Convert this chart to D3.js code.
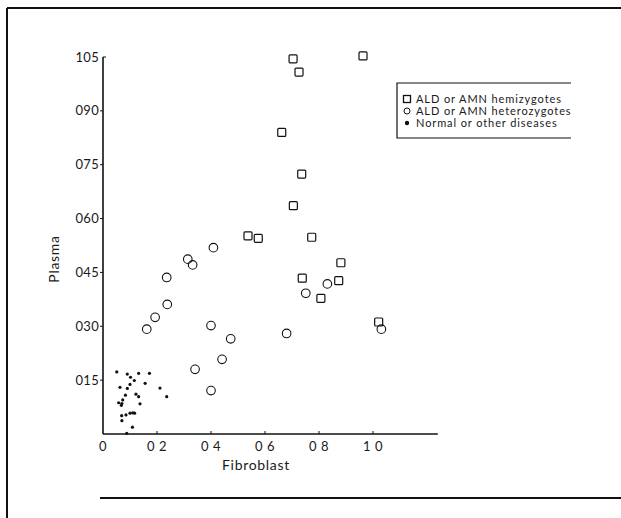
<!DOCTYPE html>
<html>
<head>
<meta charset="utf-8">
<script src="https://cdn.jsdelivr.net/npm/d3@7"></script>
<style>
  body { margin: 0; background: #fff; }
  text { font-family: Lato, "Open Sans", sans-serif; fill: #1a1a1a; }
</style>
</head>
<body>
<div id="chart"></div>
<script>
// ALD or AMN hemizygotes (fibroblast, plasma)
var hemizygotes = [
  [0.704, 1.045], [0.726, 1.008], [0.963, 1.053], [0.662, 0.840],
  [0.736, 0.724], [0.705, 0.636], [0.537, 0.552], [0.575, 0.545],
  [0.773, 0.548], [0.881, 0.477], [0.738, 0.434], [0.873, 0.427],
  [0.807, 0.378], [1.021, 0.312]
];

// ALD or AMN heterozygotes
var heterozygotes = [
  [0.409, 0.519], [0.314, 0.487], [0.332, 0.471], [0.236, 0.436],
  [0.238, 0.361], [0.193, 0.325], [0.162, 0.292], [0.400, 0.302],
  [0.473, 0.265], [0.441, 0.208], [0.341, 0.180], [0.400, 0.121],
  [0.680, 0.280], [0.751, 0.392], [0.831, 0.418], [1.031, 0.292]
];

// Normal or other diseases
var normals = [
  [0.051, 0.173], [0.090, 0.167], [0.132, 0.169], [0.172, 0.169],
  [0.102, 0.158], [0.116, 0.149], [0.156, 0.141], [0.100, 0.138],
  [0.063, 0.130], [0.090, 0.127], [0.211, 0.128], [0.083, 0.108],
  [0.122, 0.111], [0.132, 0.104], [0.236, 0.104], [0.073, 0.095],
  [0.058, 0.087], [0.070, 0.085], [0.068, 0.080], [0.137, 0.084],
  [0.100, 0.058], [0.110, 0.059], [0.117, 0.058], [0.085, 0.053],
  [0.069, 0.051], [0.070, 0.037], [0.109, 0.019], [0.088, 0.002]
];

var xTicks = [0, 0.2, 0.4, 0.6, 0.8, 1.0];
var xTickLabels = ["0", "0 2", "0 4", "0 6", "0 8", "1 0"];
var yTicks = [0.15, 0.30, 0.45, 0.60, 0.75, 0.90, 1.05];
var yTickLabels = ["015", "030", "045", "060", "075", "090", "105"];

var legendLabels = ["ALD or AMN hemizygotes", "ALD or AMN heterozygotes", "Normal or other diseases"];

var W = 621, H = 518;

var svg = d3.select("#chart").append("svg")
    .attr("width", W)
    .attr("height", H);

// page frame (scanned figure border)
var frame = svg.append("g").attr("stroke", "#111").attr("stroke-width", 2);
frame.append("line").attr("x1", 7).attr("y1", 8).attr("x2", W).attr("y2", 8);
frame.append("line").attr("x1", 7).attr("y1", 8).attr("x2", 7).attr("y2", H);
frame.append("line").attr("x1", 100).attr("y1", 498).attr("x2", W).attr("y2", 498);

var x = d3.scaleLinear().domain([0, 1.0]).range([103, 373]);
var y = d3.scaleLinear().domain([0, 1.05]).range([434, 57]);

// x axis
var xAxis = svg.append("g").attr("transform", "translate(0,434)");
xAxis.append("line")
    .attr("x1", x(0)).attr("x2", x(1.24))
    .attr("stroke", "#111").attr("stroke-width", 1.6);
xAxis.selectAll(".xt")
  .data(xTicks.slice(1))
  .enter().append("line")
    .attr("x1", function(d) { return x(d); })
    .attr("x2", function(d) { return x(d); })
    .attr("y1", 0).attr("y2", -3)
    .attr("stroke", "#111");
xAxis.selectAll(".xl")
  .data(xTicks)
  .enter().append("text")
    .attr("x", function(d) { return x(d); })
    .attr("y", 17)
    .attr("text-anchor", "middle")
    .style("font-size", "13px")
    .style("letter-spacing", "0.5px")
    .attr("xml:space", "preserve")
    .text(function(d, i) { return xTickLabels[i]; });

svg.append("text")
    .attr("x", 256).attr("y", 470)
    .attr("text-anchor", "middle")
    .style("font-size", "14px")
    .style("letter-spacing", "0.7px")
    .text("Fibroblast");

// y axis
var yAxis = svg.append("g").attr("transform", "translate(103,0)");
yAxis.append("line")
    .attr("y1", y(0)).attr("y2", y(1.05))
    .attr("stroke", "#111").attr("stroke-width", 1.6);
yAxis.selectAll(".yt")
  .data(yTicks)
  .enter().append("line")
    .attr("y1", function(d) { return y(d); })
    .attr("y2", function(d) { return y(d); })
    .attr("x1", 0)
    // top tick points inward, the others outward
    .attr("x2", function(d, i) { return i == yTicks.length - 1 ? 3 : -3; })
    .attr("stroke", "#111");
yAxis.selectAll(".yl")
  .data(yTicks)
  .enter().append("text")
    .attr("x", -4)
    .attr("y", function(d) { return y(d); })
    .attr("dy", "0.35em")
    .attr("text-anchor", "end")
    .style("font-size", "13px")
    .style("letter-spacing", "0.3px")
    .text(function(d, i) { return yTickLabels[i]; });

svg.append("text")
    .attr("transform", "translate(59,259) rotate(-90)")
    .attr("text-anchor", "middle")
    .style("font-size", "14px")
    .style("letter-spacing", "0.7px")
    .text("Plasma");

// points
var s = 8;
svg.append("g").selectAll("rect")
  .data(hemizygotes)
  .enter().append("rect")
    .attr("x", function(d) { return x(d[0]) - s / 2; })
    .attr("y", function(d) { return y(d[1]) - s / 2; })
    .attr("width", s).attr("height", s)
    .attr("rx", 1)
    .attr("fill", "none")
    .attr("stroke", "#111")
    .attr("stroke-width", 1.2);

svg.append("g").selectAll("circle")
  .data(heterozygotes)
  .enter().append("circle")
    .attr("cx", function(d) { return x(d[0]); })
    .attr("cy", function(d) { return y(d[1]); })
    .attr("r", 4.3)
    .attr("fill", "none")
    .attr("stroke", "#111")
    .attr("stroke-width", 1.1);

svg.append("g").selectAll("circle")
  .data(normals)
  .enter().append("circle")
    .attr("cx", function(d) { return x(d[0]); })
    .attr("cy", function(d) { return y(d[1]); })
    .attr("r", 1.6)
    .attr("fill", "#111");

// legend
var lg = svg.append("g").attr("transform", "translate(397,83)");
lg.append("path")
    .attr("d", "M174,0H0V55H174")
    .attr("fill", "none")
    .attr("stroke", "#111")
    .attr("stroke-width", 1.2);

var rows = lg.selectAll(".row")
  .data(legendLabels)
  .enter().append("g")
    .attr("transform", function(d, i) { return "translate(10," + (16 + i * 12) + ")"; });

rows.each(function(d, i) {
  var g = d3.select(this);
  if (i == 0) {
    g.append("rect").attr("x", -3.5).attr("y", -3.5).attr("width", 7).attr("height", 7)
      .attr("fill", "none").attr("stroke", "#111").attr("stroke-width", 1.3);
  } else if (i == 1) {
    g.append("circle").attr("r", 3).attr("fill", "none").attr("stroke", "#111");
  } else {
    g.append("circle").attr("r", 2.2).attr("fill", "#111");
  }
});

rows.append("text")
    .attr("x", 9)
    .attr("dy", "0.35em")
    .style("font-size", "11px")
    .style("letter-spacing", "0.9px")
    .text(function(d) { return d; });
</script>
</body>
</html>
